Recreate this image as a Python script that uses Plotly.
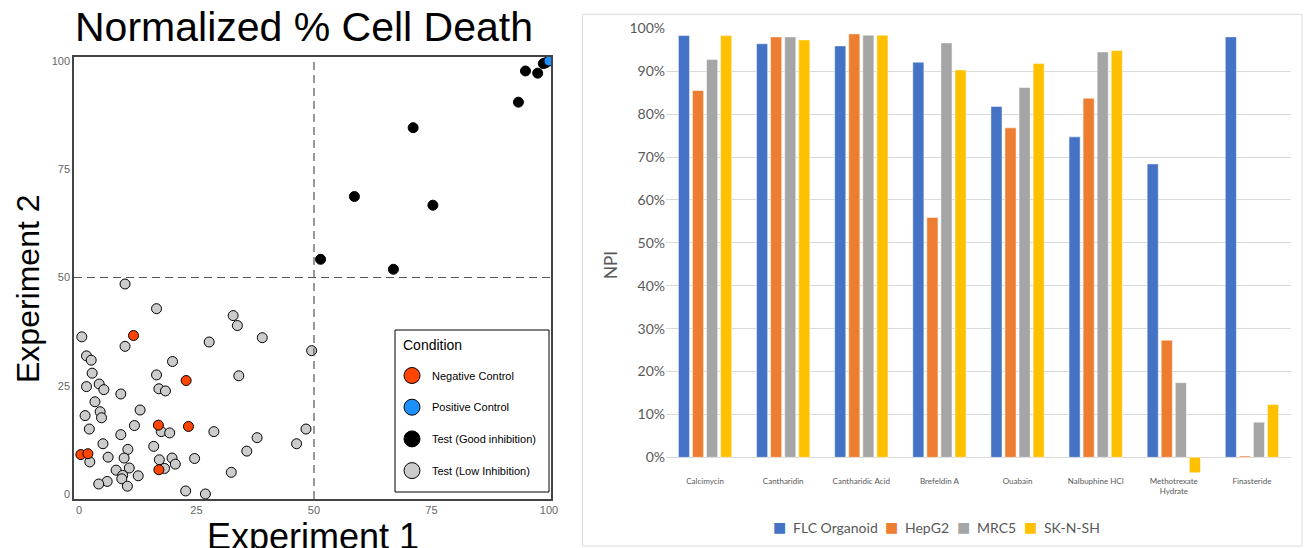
import plotly.graph_objects as go

W, H = 1304, 548

# ---------------- Scatter data ----------------
low_x = [9.8, 16.5, 32.8, 33.7, 0.6, 9.8, 27.7, 39.0, 49.5, 1.6, 2.6, 19.9, 2.8, 16.5, 34.0,
         1.6, 4.3, 5.3, 17.0, 18.4, 8.9, 3.4, 13.0, 4.5, 1.3, 4.8, 11.8, 2.2, 8.9, 17.5,
         19.3, 28.7, 48.3, 37.9, 46.3, 5.1, 15.9, 10.4, 35.7, 6.2, 9.6, 2.3, 17.1, 19.8,
         24.6, 20.5, 18.2, 10.7, 7.9, 9.3, 9.1, 12.6, 32.4, 6.0, 4.2, 10.3, 22.7, 26.9]
low_y = [48.5, 42.8, 41.2, 38.9, 36.3, 34.1, 35.1, 36.1, 33.1, 31.9, 30.9, 30.6, 27.9, 27.5, 27.3,
         24.8, 25.4, 24.1, 24.3, 23.8, 23.1, 21.3, 19.4, 19.0, 18.1, 17.6, 15.8, 15.0, 13.7, 14.4,
         14.1, 14.4, 15.0, 13.0, 11.6, 11.6, 11.0, 10.3, 9.9, 8.5, 8.3, 7.4, 7.9, 8.3,
         8.2, 6.9, 5.9, 6.0, 5.5, 4.3, 3.5, 4.2, 5.0, 2.9, 2.3, 1.8, 0.7, 0.0]
neg_x = [11.6, 22.8, 16.9, 23.3, 0.4, 1.9, 17.0]
neg_y = [36.6, 26.2, 15.9, 15.6, 9.1, 9.3, 5.6]
good_x = [51.4, 66.9, 58.6, 75.3, 71.1, 93.5, 95.0, 97.6, 98.8, 99.3]
good_y = [54.2, 51.9, 68.7, 66.7, 84.6, 90.5, 97.7, 97.2, 99.4, 99.6]
pos_x = [100.0]
pos_y = [100.0]
scatter_ticks = [0, 25, 50, 75, 100]
conditions = ["Negative Control", "Positive Control", "Test (Good inhibition)", "Test (Low Inhibition)"]

# ---------------- Bar data ----------------
compounds = ["Calcimycin", "Cantharidin", "Cantharidic Acid", "Brefeldin A", "Ouabain",
             "Nalbuphine HCl", "Methotrexate<br>Hydrate", "Finasteride"]
flc = [0.983, 0.964, 0.959, 0.921, 0.818, 0.747, 0.684, 0.980]
hepg2 = [0.855, 0.980, 0.987, 0.559, 0.768, 0.837, 0.273, 0.003]
mrc5 = [0.927, 0.980, 0.984, 0.966, 0.862, 0.945, 0.174, 0.082]
sknsh = [0.983, 0.973, 0.984, 0.903, 0.918, 0.948, -0.036, 0.123]
bar_series = ["FLC Organoid", "HepG2", "MRC5", "SK-N-SH"]
bar_ticks = [0, 0.1, 0.2, 0.3, 0.4, 0.5, 0.6, 0.7, 0.8, 0.9, 1.0]

def px(x):
    return x / W

def py(y):
    return 1 - y / H

fig = go.Figure()

SC_FONT = "Liberation Sans, Arial, sans-serif"
XL_FONT = "Lato, Open Sans, sans-serif"

# scatter traces (data)
fig.add_trace(go.Scatter(x=low_x, y=low_y, mode="markers", showlegend=False,
                         marker=dict(size=10, color="#CCCCCC", line=dict(color="black", width=1)),
                         xaxis="x", yaxis="y"))
fig.add_trace(go.Scatter(x=neg_x, y=neg_y, mode="markers", showlegend=False,
                         marker=dict(size=10, color="#FF4500", line=dict(color="black", width=1)),
                         xaxis="x", yaxis="y"))
fig.add_trace(go.Scatter(x=good_x, y=good_y, mode="markers", showlegend=False,
                         marker=dict(size=10, color="black", line=dict(color="black", width=1)),
                         xaxis="x", yaxis="y"))
fig.add_trace(go.Scatter(x=pos_x, y=pos_y, mode="markers", showlegend=False,
                         marker=dict(size=10, color="#1E90FF", line=dict(color="black", width=1)),
                         xaxis="x", yaxis="y"))

# legend-only entries for scatter
leg_colors = ["#FF4500", "#1E90FF", "black", "#CCCCCC"]
for name, col in zip(conditions, leg_colors):
    fig.add_trace(go.Scatter(x=[None], y=[None], mode="markers", name=name,
                             legendgroup=name, legend="legend",
                             marker=dict(size=16, color=col, line=dict(color="black", width=1)),
                             xaxis="x", yaxis="y"))

# bars
bar_colors = ["#4472C4", "#ED7D31", "#A5A5A5", "#FFC000"]
for name, vals, col in zip(bar_series, [flc, hepg2, mrc5, sknsh], bar_colors):
    fig.add_trace(go.Bar(x=compounds, y=vals, name=name, showlegend=False,
                         marker=dict(color=col, line=dict(color="white", width=0.5)),
                         xaxis="x2", yaxis="y2"))

# dashed threshold lines
fig.add_shape(type="line", xref="x", yref="paper", x0=50, x1=50, y0=py(499), y1=py(57),
              line=dict(color="#555555", width=1.2, dash="8px,5px"))
fig.add_shape(type="line", xref="paper", yref="y", x0=px(74), x1=px(551), y0=50, y1=50,
              line=dict(color="#555555", width=1.2, dash="8px,5px"))

# scatter legend frame
fig.add_shape(type="rect", xref="paper", yref="paper", x0=px(395), x1=px(549), y0=py(492), y1=py(330),
              line=dict(color="black", width=1), fillcolor="white", layer="above")

# chart area border on right
fig.add_shape(type="rect", xref="paper", yref="paper", x0=px(582.5), x1=px(1302), y0=py(546), y1=py(14.3),
              line=dict(color="#D9D9D9", width=1), fillcolor="rgba(0,0,0,0)", layer="below")

annotations = [
    dict(text="Normalized % Cell Death", x=px(73), y=py(27), xref="paper", yref="paper",
         xanchor="left", yanchor="middle", showarrow=False,
         font=dict(family=SC_FONT, size=41, color="black")),
    dict(text="Experiment 2", x=px(28), y=py(289), xref="paper", yref="paper",
         xanchor="center", yanchor="middle", textangle=-90, showarrow=False,
         font=dict(family=SC_FONT, size=32, color="black")),
    dict(text="Experiment 1", x=px(313), y=py(536), xref="paper", yref="paper",
         xanchor="center", yanchor="middle", showarrow=False,
         font=dict(family=SC_FONT, size=36, color="black")),
    dict(text="NPI", x=px(611), y=py(265), xref="paper", yref="paper",
         xanchor="center", yanchor="middle", textangle=-90, showarrow=False,
         font=dict(family=XL_FONT, size=17, color="#595959")),
    dict(text="Condition", x=px(401), y=py(345), xref="paper", yref="paper",
         xanchor="left", yanchor="middle", showarrow=False,
         font=dict(family=SC_FONT, size=14, color="black")),
]

# manual legend for the bar chart (Excel style)
leg2_text_x = [791, 903, 975, 1042]
for name, col, tx in zip(bar_series, bar_colors, leg2_text_x):
    annotations.append(dict(text="\u25A0", x=px(tx - 3), y=py(527),
                            xref="paper", yref="paper", xanchor="right", yanchor="middle",
                            showarrow=False, font=dict(family="DejaVu Sans", size=14, color=col)))
    annotations.append(dict(text=name, x=px(tx), y=py(527), xref="paper", yref="paper",
                            xanchor="left", yanchor="middle", showarrow=False,
                            font=dict(family=XL_FONT, size=14, color="#595959")))

fig.update_layout(
    width=W, height=H,
    margin=dict(l=0, r=0, t=0, b=0, pad=0, autoexpand=False),
    paper_bgcolor="white", plot_bgcolor="white",
    barmode="group", bargap=0.28, bargroupgap=0.21,
    annotations=annotations,
    xaxis=dict(domain=[px(74), px(551)], range=[-1.06, 100.43], tickvals=scatter_ticks,
               showgrid=False, zeroline=False, showline=True, linecolor="#444444", linewidth=1.5,
               mirror=True, ticks="", tickfont=dict(family=SC_FONT, size=11, color="#666666"),
               anchor="y", automargin=False),
    yaxis=dict(domain=[py(499), py(57)], range=[-1.16, 100.93], tickvals=scatter_ticks,
               showgrid=False, zeroline=False, showline=True, linecolor="#444444", linewidth=1.5,
               mirror=True, ticks="", tickfont=dict(family=SC_FONT, size=11, color="#666666"),
               anchor="x", automargin=False),
    xaxis2=dict(domain=[px(666), px(1291)], range=[-0.5, 7.5], showgrid=False, zeroline=False,
                showline=False, ticks="", tickfont=dict(family=XL_FONT, size=8, color="#595959"),
                anchor="y2", tickangle=0, automargin=False),
    yaxis2=dict(domain=[py(474.5), py(28.3)], range=[-0.04, 1.0], tickvals=bar_ticks,
                tickformat=".0%", showgrid=True, gridcolor="#D9D9D9", gridwidth=1,
                zeroline=True, zerolinecolor="#D9D9D9", zerolinewidth=1, showline=False, ticks="",
                tickfont=dict(family=XL_FONT, size=14, color="#595959"), anchor="x2",
                automargin=False),
    legend=dict(x=px(392), y=py(361), xanchor="left", yanchor="top",
                borderwidth=0, bgcolor="rgba(0,0,0,0)",
                font=dict(family=SC_FONT, size=11, color="black"),
                traceorder="grouped", tracegroupgap=12.7, itemsizing="trace"),
)

post = ("document.documentElement.style.margin='0px';"
        "document.body.style.margin='0px';document.body.style.overflow='hidden';"
        "var d=document.getElementsByClassName('plotly-graph-div')[0];"
        "d.style.position='fixed';d.style.left='0px';d.style.top='0px';")

fig.write_html("out.html", config={"displayModeBar": False}, post_script=post)
